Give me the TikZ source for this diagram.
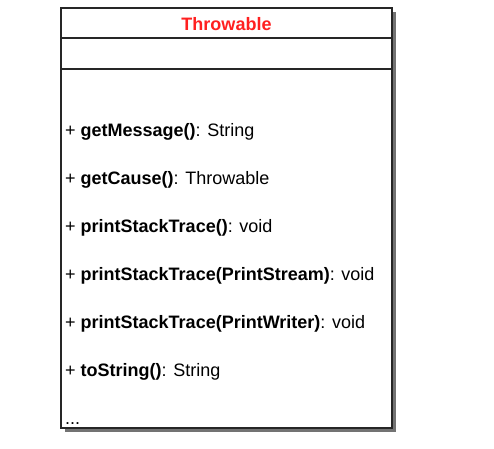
\documentclass[tikz,border=0pt]{standalone}
\usepackage{fontspec}
\setmainfont{Liberation Sans}
\usepackage{xcolor}
\usetikzlibrary{positioning,calc,shadows}

\definecolor{titlered}{RGB}{255,32,32}

\begin{document}
\begin{tikzpicture}[
  x=1pt, y=-1pt,
  part/.style={rectangle, draw=black!85, line width=1.3pt, fill=white, minimum width=331pt, inner sep=0pt, outer sep=0pt,
    drop shadow={shadow xshift=4pt, shadow yshift=-4pt, fill=black!55, opacity=1}},
  op/.style={anchor=base west, inner sep=0pt, font=\fontsize{18}{21}\selectfont},
  ttl/.style={font=\fontsize{18}{21}\selectfont\bfseries, text=titlered}
]
  \useasboundingbox (0,0) rectangle (494,448);

  \node[part, minimum height=30pt, anchor=north west] (head) at (61,8) {};
  \node[part, minimum height=31pt, below=0pt of head] (attrs) {};
  \node[part, minimum height=359pt, below=0pt of attrs] (ops) {};
  \node[ttl, anchor=base, inner sep=0pt] (name) at ($(head.north)+(0,22)$) {Throwable};

  \node[op] (m1) at ($(ops.north west)+(4,67)$) {+ \textbf{getMessage()}: String};
  \node[op] (m2) at ($(ops.north west)+(4,115)$) {+ \textbf{getCause()}: Throwable};
  \node[op] (m3) at ($(ops.north west)+(4,163)$) {+ \textbf{printStackTrace()}: void};
  \node[op] (m4) at ($(ops.north west)+(4,211)$) {+ \textbf{printStackTrace(PrintStream)}: void};
  \node[op] (m5) at ($(ops.north west)+(4,259)$) {+ \textbf{printStackTrace(PrintWriter)}: void};
  \node[op] (m6) at ($(ops.north west)+(4,307)$) {+ \textbf{toString()}: String};
  \node[op] (more) at ($(ops.north west)+(4,355)$) {...};
\end{tikzpicture}
\end{document}
